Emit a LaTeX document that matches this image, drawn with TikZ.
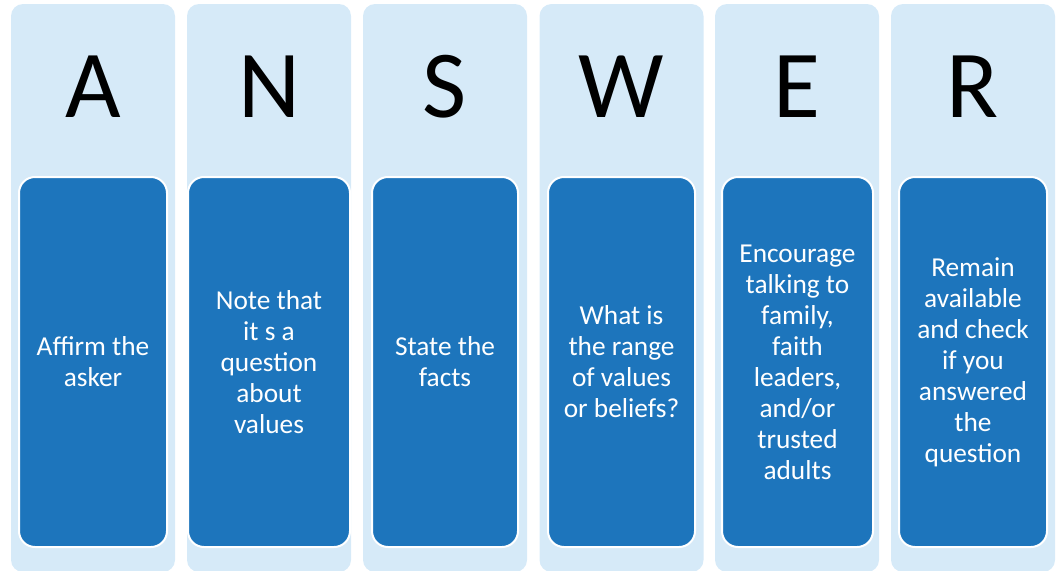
\documentclass[tikz,border=0pt]{standalone}
\usepackage{fontspec}
\setmainfont{Carlito}
\usetikzlibrary{positioning}
\definecolor{paleblue}{RGB}{214,234,248}
\definecolor{cardblue}{RGB}{29,117,188}

\begin{document}
\begin{tikzpicture}[
            x = 0.75pt, y = -0.75pt, % one unit = one pixel, y downwards
            column/.style = {fill=paleblue, rounded corners=9pt, inner sep=0pt,
                minimum width=123pt, minimum height=426pt},
            letter/.style = {inner sep=0pt, anchor=base,
                font=\fontsize{72}{72}\selectfont},
            card/.style = {fill=cardblue, draw=white, line width=1.5pt,
                rounded corners=12pt, inner sep=0pt, minimum height=277.5pt,
                text=white, align=center, font=\fontsize{20.5}{23.25}\selectfont}
        ]

        \clip (0,0) rectangle (1060,571); % page size

        % pale columns
        \node[column] (colA) at (93,288) {};
        \node[column] (colN) at (269,288) {};
        \node[column] (colS) at (445,288) {};
        \node[column] (colW) at (621.5,288) {};
        \node[column] (colE) at (797,288) {};
        \node[column] (colR) at (973,288) {};

        % big letters
        \node[letter] (lA) at (93,117) {A};
        \node[letter] (lN) at (269,117) {N};
        \node[letter] (lS) at (445,117) {S};
        \node[letter] (lW) at (621.5,117) {W};
        \node[letter] (lE) at (797,117) {E};
        \node[letter] (lR) at (973,117) {R};

        % dark cards
        \node[card, minimum width=111pt] (cA) at (93,362) {Affirm the\\asker};
        \node[card, minimum width=121.5pt] (cN) at (269,362) {Note that\\it s a\\question\\about\\values};
        \node[card, minimum width=109.5pt] (cS) at (445,362) {State the\\facts};
        \node[card, minimum width=110.25pt] (cW) at (621.5,362) {What is\\the range\\of values\\or beliefs?};
        \node[card, minimum width=113.25pt] (cE) at (797.5,362) {Encourage\\talking to\\family,\\faith\\leaders,\\and/or\\trusted\\adults};
        \node[card, minimum width=111pt] (cR) at (973,362) {Remain\\available\\and check\\if you\\answered\\the\\question};
\end{tikzpicture}
\end{document}
